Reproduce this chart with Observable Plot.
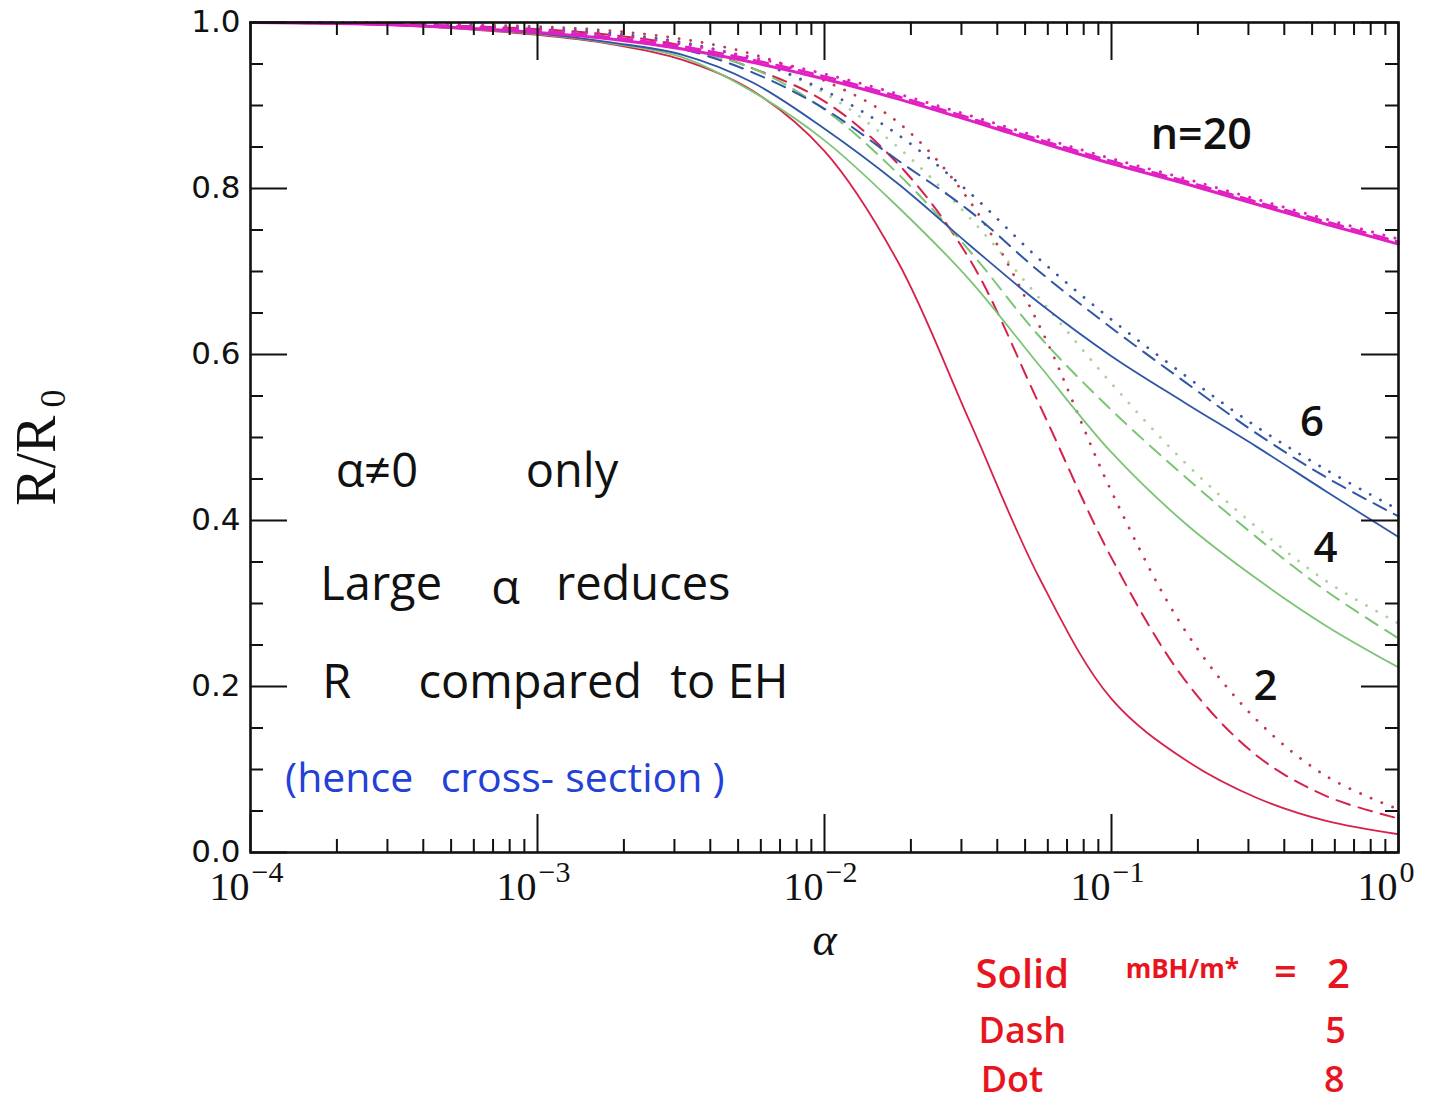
<!DOCTYPE html>
<html>
<head>
<meta charset="utf-8">
<script src="https://cdn.jsdelivr.net/npm/d3@7"></script>
<script src="https://cdn.jsdelivr.net/npm/@observablehq/plot@0.6"></script>
<style>
  html, body { margin: 0; padding: 0; background: #ffffff; }
  #chart svg { display: block; }
</style>
</head>
<body>
<div id="chart"></div>
<script>
// Coupling parameter α (log-spaced sample points, quarter decades)
const alpha = [1e-4, 3.2e-4, 1e-3, 1.8e-3, 3.2e-3, 5.6e-3, 1e-2, 1.8e-2, 3.2e-2, 5.6e-2, 0.1, 0.18, 0.32, 0.56, 1];

// R/R0 for each n, with m_BH/m_* = 2 (solid), 5 (dash), 8 (dot)
const n2_m2  = [1.0, 0.997, 0.985, 0.974, 0.955, 0.918, 0.845, 0.712, 0.520, 0.331, 0.185, 0.112, 0.066, 0.038, 0.022];
const n2_m5  = [1.0, 0.998, 0.992, 0.985, 0.972, 0.945, 0.905, 0.830, 0.715, 0.540, 0.355, 0.208, 0.117, 0.068, 0.041];
const n2_m8  = [1.0, 0.999, 0.995, 0.990, 0.980, 0.962, 0.930, 0.880, 0.785, 0.635, 0.435, 0.268, 0.160, 0.092, 0.052];

const n4_m2  = [1.0, 0.997, 0.986, 0.975, 0.958, 0.917, 0.858, 0.778, 0.690, 0.587, 0.482, 0.397, 0.330, 0.273, 0.223];
const n4_m5  = [1.0, 0.998, 0.990, 0.982, 0.968, 0.945, 0.895, 0.818, 0.725, 0.622, 0.533, 0.453, 0.380, 0.315, 0.258];
const n4_m8  = [1.0, 0.999, 0.993, 0.987, 0.976, 0.955, 0.915, 0.850, 0.765, 0.668, 0.565, 0.470, 0.392, 0.327, 0.276];

const n6_m2  = [1.0, 0.997, 0.987, 0.976, 0.961, 0.928, 0.872, 0.806, 0.732, 0.662, 0.598, 0.542, 0.489, 0.435, 0.380];
const n6_m5  = [1.0, 0.998, 0.990, 0.982, 0.968, 0.940, 0.896, 0.834, 0.773, 0.700, 0.632, 0.567, 0.505, 0.452, 0.405];
const n6_m8  = [1.0, 0.999, 0.993, 0.987, 0.976, 0.955, 0.918, 0.865, 0.795, 0.715, 0.642, 0.575, 0.513, 0.461, 0.413];

const n20_m2 = [1.0, 0.997, 0.988, 0.980, 0.968, 0.952, 0.932, 0.908, 0.882, 0.856, 0.830, 0.806, 0.781, 0.757, 0.733];
const n20_m5 = [1.0, 0.998, 0.990, 0.982, 0.971, 0.955, 0.935, 0.911, 0.885, 0.859, 0.833, 0.809, 0.784, 0.760, 0.736];
const n20_m8 = [1.0, 0.999, 0.992, 0.985, 0.974, 0.958, 0.938, 0.914, 0.888, 0.862, 0.836, 0.812, 0.787, 0.763, 0.739];

const seriesList = [
  {n: 2,  ratio: 2, values: n2_m2},  {n: 2,  ratio: 5, values: n2_m5},  {n: 2,  ratio: 8, values: n2_m8},
  {n: 4,  ratio: 2, values: n4_m2},  {n: 4,  ratio: 5, values: n4_m5},  {n: 4,  ratio: 8, values: n4_m8},
  {n: 6,  ratio: 2, values: n6_m2},  {n: 6,  ratio: 5, values: n6_m5},  {n: 6,  ratio: 8, values: n6_m8},
  {n: 20, ratio: 2, values: n20_m2}, {n: 20, ratio: 5, values: n20_m5}, {n: 20, ratio: 8, values: n20_m8}
];

// Axis tick values
const yMajor = [0, 0.2, 0.4, 0.6, 0.8, 1.0];
const xDecades = [1e-4, 1e-3, 1e-2, 1e-1, 1];
const xExponents = ["\u22124", "\u22123", "\u22122", "\u22121", "0"];

// Hand-written notes: [text, α, R]
const notesBlack = [
  ["α≠0", 1.98e-4, 0.458], ["only", 9.1e-4, 0.458],
  ["Large", 1.75e-4, 0.322], ["α", 6.9e-4, 0.318], ["reduces", 1.16e-3, 0.322],
  ["R", 1.78e-4, 0.204], ["compared", 3.85e-4, 0.204], ["to", 2.9e-3, 0.204], ["EH", 4.6e-3, 0.204]
];
const notesBlue = [
  ["(hence", 1.32e-4, 0.089], ["cross-", 4.6e-4, 0.089], ["section", 1.25e-3, 0.089], [")", 4.07e-3, 0.089]
];
// Curve family labels (n)
const nLabelStart = [["n=20", 0.137, 0.864]];
const nLabelMid = [["6", 0.50, 0.518], ["4", 0.557, 0.366], ["2", 0.344, 0.200]];
// Line-style key below the axis
const keyFirst = [["Solid", 0.0336, -0.148]];
const keyWords = [["Dash", 0.0344, -0.216], ["Dot", 0.035, -0.275]];
const keyRatioName = [["mBH/m*", 0.112, -0.141]];
const keyFirstValues = [["=", 0.404, -0.144], ["2", 0.618, -0.148]];
const keyValues = [["5", 0.603, -0.216], ["8", 0.597, -0.275]];

const colorOf = {2: "#d6224a", 4: "#7cc476", 6: "#2f55a6", 20: "#e21fc2"};
const colorDotOf = {2: "#c23a4a", 4: "#a8d49a", 6: "#3a5aa8", 20: "#e21fc2"};

const rows = seriesList.flatMap(s => s.values.map((r, i) => ({n: s.n, ratio: s.ratio, alpha: alpha[i], r})));

const W = 1440, H = 1105;
const mTop = 22, mLeft = 250, mRight = 42, mBottom = 253;
const plotW = W - mLeft - mRight, plotH = H - mTop - mBottom;

const lineMarks = seriesList.map(s => {
  const data = rows.filter(d => d.n === s.n && d.ratio === s.ratio);
  const thick = s.n === 20;
  const opts = {x: "alpha", y: "r", curve: "catmull-rom", strokeLinejoin: "round"};
  if (s.ratio === 2) return Plot.line(data, {...opts, stroke: colorOf[s.n], strokeWidth: thick ? 3 : 1.8});
  if (s.ratio === 5) return Plot.line(data, {...opts, stroke: colorOf[s.n], strokeWidth: thick ? 2.6 : 2, strokeDasharray: "14,9"});
  return Plot.line(data, {...opts, stroke: colorDotOf[s.n], strokeWidth: thick ? 3 : 2.8, strokeDasharray: "0.1,11.5", strokeLinecap: "round"});
});

const logTicks = d3.scaleLog().domain([1e-4, 1]).ticks();
const xMinor = logTicks.filter(t => !xDecades.some(d => Math.abs(d - t) < d * 1e-6));
const yMinor = d3.ticks(0, 1, 25).filter(t => !yMajor.some(m => Math.abs(m - t) < 1e-6));

const handFont = "'Open Sans', 'Noto Sans', sans-serif";
const serif = "'Liberation Serif', 'DejaVu Serif', serif";
const red = "#e8141e";

const chart = Plot.plot({
  width: W,
  height: H,
  marginTop: mTop,
  marginLeft: mLeft,
  marginRight: mRight,
  marginBottom: mBottom,
  x: {type: "log", domain: [1e-4, 1]},
  y: {domain: [0, 1]},
  axis: null,
  style: {background: "#ffffff", color: "#111", fontFamily: "'DejaVu Sans', sans-serif"},
  marks: [
    ...lineMarks,
    // ticks on the four sides, pointing inward
    Plot.tickX(xDecades, {x: d => d, insetTop: plotH - 38, stroke: "#111", strokeWidth: 2}),
    Plot.tickX(xMinor, {x: d => d, insetTop: plotH - 13, stroke: "#111", strokeWidth: 2}),
    Plot.tickX(xDecades, {x: d => d, insetBottom: plotH - 38, stroke: "#111", strokeWidth: 2}),
    Plot.tickX(xMinor, {x: d => d, insetBottom: plotH - 13, stroke: "#111", strokeWidth: 2}),
    Plot.tickY(yMajor, {y: d => d, insetRight: plotW - 37, stroke: "#111", strokeWidth: 2}),
    Plot.tickY(yMinor, {y: d => d, insetRight: plotW - 13, stroke: "#111", strokeWidth: 2}),
    Plot.tickY(yMajor, {y: d => d, insetLeft: plotW - 37, stroke: "#111", strokeWidth: 2}),
    Plot.tickY(yMinor, {y: d => d, insetLeft: plotW - 13, stroke: "#111", strokeWidth: 2}),
    Plot.frame({stroke: "#111", strokeWidth: 2.6}),
    // y tick labels
    Plot.axisY({ticks: yMajor, tickFormat: d3.format(".1f"), tickSize: 0, tickPadding: 10, label: null,
      fontSize: 31, fontFamily: "'DejaVu Sans', sans-serif", fill: "#111"}),
    // x tick labels: 10 with exponent
    Plot.text(xDecades, {x: d => d, frameAnchor: "bottom", lineAnchor: "middle", dy: 35, dx: -1,
      text: () => "10", textAnchor: "end", fontSize: 40, fontFamily: serif, fill: "#111"}),
    Plot.text(xDecades, {x: d => d, frameAnchor: "bottom", lineAnchor: "middle", dy: 20, dx: 1,
      text: (d, i) => xExponents[i], textAnchor: "start", fontSize: 30, fontFamily: serif, fill: "#111"}),
    // axis titles
    Plot.text(["α"], {x: 0.01, y: -0.106, text: d => d, fontSize: 46, fontStyle: "italic", fontFamily: serif, fill: "#111"}),
    Plot.text(["R/R"], {x: 1.8e-5, y: 0.472, rotate: -90, text: d => d, fontSize: 56, fontFamily: serif, fill: "#111"}),
    Plot.text(["0"], {x: 2.06e-5, y: 0.547, rotate: -90, text: d => d, fontSize: 36, fontFamily: serif, fill: "#111"}),
    // notes inside the frame
    Plot.text(notesBlack, {x: d => d[1], y: d => d[2], text: d => d[0], textAnchor: "start",
      fontSize: 47, fontFamily: handFont, fill: "#111"}),
    Plot.text(notesBlue, {x: d => d[1], y: d => d[2], text: d => d[0], textAnchor: "start",
      fontSize: 41, fontFamily: handFont, fill: "#2340d8"}),
    Plot.text(nLabelStart, {x: d => d[1], y: d => d[2], text: d => d[0], textAnchor: "start",
      fontSize: 43, fontWeight: 600, fontFamily: handFont, fill: "#111"}),
    Plot.text(nLabelMid, {x: d => d[1], y: d => d[2], text: d => d[0], textAnchor: "middle",
      fontSize: 42, fontWeight: 600, fontFamily: handFont, fill: "#111"}),
    // line-style key below the frame
    Plot.text(keyFirst, {x: d => d[1], y: d => d[2], text: d => d[0], textAnchor: "start",
      fontSize: 40, fontWeight: 600, fontFamily: handFont, fill: red}),
    Plot.text(keyWords, {x: d => d[1], y: d => d[2], text: d => d[0], textAnchor: "start",
      fontSize: 36, fontWeight: 600, fontFamily: handFont, fill: red}),
    Plot.text(keyRatioName, {x: d => d[1], y: d => d[2], text: d => d[0], textAnchor: "start",
      fontSize: 26, fontWeight: 700, fontFamily: handFont, fill: red}),
    Plot.text(keyFirstValues, {x: d => d[1], y: d => d[2], text: d => d[0], textAnchor: "middle",
      fontSize: 40, fontWeight: 600, fontFamily: handFont, fill: red}),
    Plot.text(keyValues, {x: d => d[1], y: d => d[2], text: d => d[0], textAnchor: "middle",
      fontSize: 36, fontWeight: 600, fontFamily: handFont, fill: red})
  ]
});

document.getElementById("chart").appendChild(chart);
</script>
</body>
</html>
